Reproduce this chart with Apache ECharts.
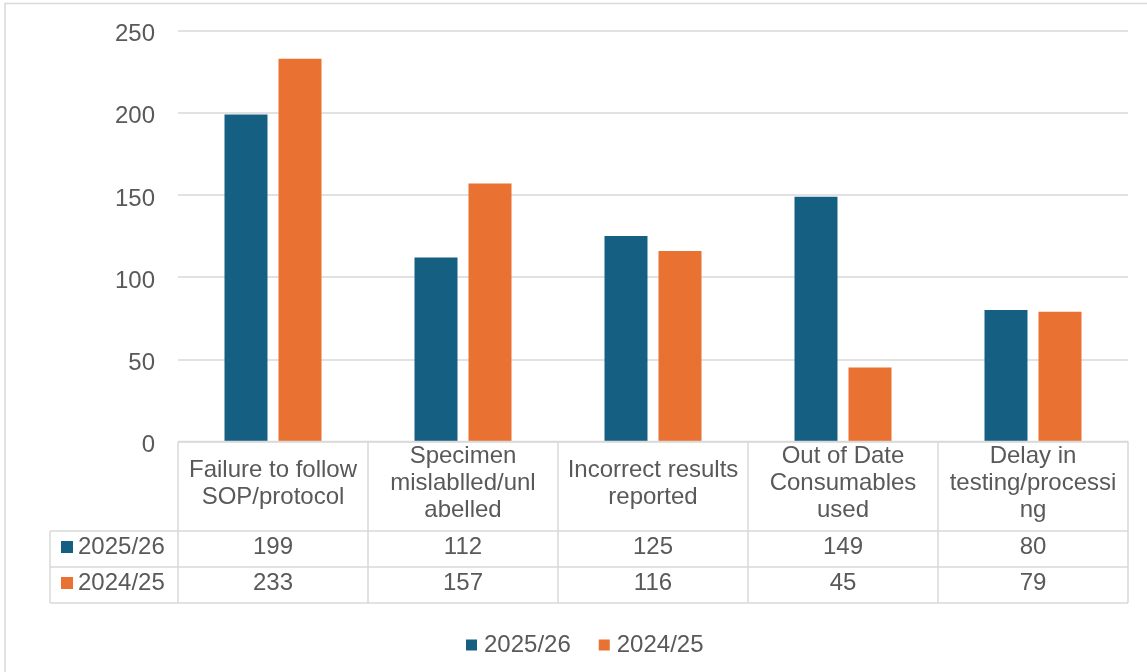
<!DOCTYPE html>
<html>
<head>
<meta charset="utf-8">
<script src="https://cdn.jsdelivr.net/npm/echarts@6/dist/echarts.min.js"></script>
<style>
  html, body { margin: 0; padding: 0; background: #fff; }
  #chart { width: 1147px; height: 672px; }
</style>
</head>
<body>
<div id="chart"></div>
<script>
// Category names, wrapped the way they appear in the data table header
const categories = [
  'Failure to follow\nSOP/protocol',
  'Specimen\nmislablled/unl\nabelled',
  'Incorrect results\nreported',
  'Out of Date\nConsumables\nused',
  'Delay in\ntesting/processi\nng'
];
const seriesNames = ['2025/26', '2024/25'];
const values2025 = [199, 112, 125, 149, 80];
const values2024 = [233, 157, 116, 45, 79];
const yTicks = [0, 50, 100, 150, 200, 250];

const COLORS = ['#156082', '#E97132'];
const FONT = '"Liberation Sans", Arial, sans-serif';
const TEXT = '#595959';
const LINE = '#D9D9D9';

const chart = echarts.init(document.getElementById('chart'), null, { renderer: 'canvas' });

const seriesData = [values2025, values2024];

chart.setOption({
  animation: false,
  backgroundColor: '#fff',
  grid: { left: 178, right: 19, top: 30.7, bottom: 230.5 },
  legend: {
    data: seriesNames,
    left: 461,
    top: 628,
    icon: 'rect',
    itemWidth: 11,
    itemHeight: 11,
    itemGap: 28,
    textStyle: { fontFamily: FONT, fontSize: 24, color: TEXT, padding: [0, 0, 0, 2] }
  },
  xAxis: {
    type: 'category',
    data: categories,
    axisLine: { show: false },
    axisTick: { show: false },
    axisLabel: {
      interval: 0,
      fontFamily: FONT,
      fontSize: 24,
      lineHeight: 27,
      color: TEXT,
      verticalAlign: 'middle',
      margin: 42
    }
  },
  yAxis: {
    type: 'value',
    min: yTicks[0],
    max: yTicks[yTicks.length - 1],
    interval: yTicks[1] - yTicks[0],
    axisLine: { show: false },
    axisTick: { show: false },
    axisLabel: {
      margin: 23,
      formatter: '{t|{value}}',
      rich: {
        t: { fontFamily: FONT, fontSize: 24, color: TEXT, padding: [8, 0, 0, 0] }
      }
    },
    splitLine: { lineStyle: { color: LINE, width: 1.5 } }
  },
  series: seriesNames.map((name, i) => ({
    type: 'bar',
    name: name,
    data: seriesData[i],
    barWidth: 43,
    barGap: '25.6%',
    itemStyle: { color: COLORS[i] }
  }))
});

// Data table under the plot, positioned from the axes
function buildTable() {
  const centers = categories.map((_, i) => chart.convertToPixel({ xAxisIndex: 0 }, i));
  const band = centers[1] - centers[0];
  const edges = centers.map(c => c - band / 2);
  edges.push(centers[centers.length - 1] + band / 2);
  const yBase = chart.convertToPixel({ yAxisIndex: 0 }, 0);

  const headerBottom = yBase + 89.5;
  const rowH = 36;
  const rowTops = [headerBottom, headerBottom + rowH];
  const tableBottom = headerBottom + 2 * rowH;
  const labelLeft = 50;
  const left = edges[0];
  const right = edges[edges.length - 1];

  const lineStyle = { stroke: LINE, lineWidth: 1.5 };
  const els = [];
  const hline = (x1, x2, y) => els.push({ type: 'line', shape: { x1, y1: y, x2, y2: y }, style: lineStyle, z: 10 });
  const vline = (x, y1, y2) => els.push({ type: 'line', shape: { x1: x, y1, x2: x, y2 }, style: lineStyle, z: 10 });

  hline(left, right, yBase);
  hline(labelLeft, right, headerBottom);
  hline(labelLeft, right, headerBottom + rowH);
  hline(labelLeft, right, tableBottom);
  vline(labelLeft, headerBottom, tableBottom);
  edges.forEach(x => vline(x, yBase, tableBottom));

  seriesNames.forEach((name, r) => {
    const cy = rowTops[r] + rowH / 2 - 2;
    els.push({ type: 'rect', shape: { x: 61, y: cy - 6, width: 12, height: 12 }, style: { fill: COLORS[r] }, z: 10 });
    els.push({
      type: 'text', x: 78, y: cy, z: 10,
      style: { text: name, fill: TEXT, font: '24px ' + FONT, align: 'left', verticalAlign: 'middle' }
    });
    seriesData[r].forEach((v, i) => {
      els.push({
        type: 'text', x: centers[i], y: cy, z: 10,
        style: { text: String(v), fill: TEXT, font: '24px ' + FONT, align: 'center', verticalAlign: 'middle' }
      });
    });
  });

  // outer chart border
  els.push({ type: 'rect', shape: { x: 5, y: 3.5, width: 1300, height: 800 }, style: { fill: 'none', stroke: LINE, lineWidth: 1.5 }, z: 0 });

  chart.setOption({ graphic: { elements: els } });
}
buildTable();
</script>
</body>
</html>
